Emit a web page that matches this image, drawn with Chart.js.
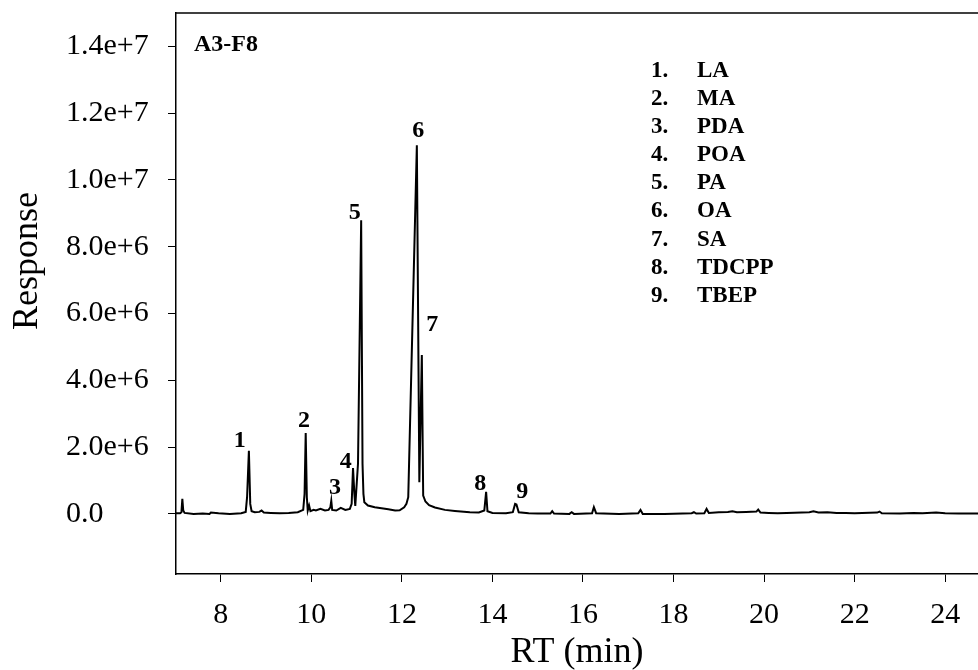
<!DOCTYPE html>
<html>
<head>
<meta charset="utf-8">
<script src="https://cdn.jsdelivr.net/npm/chart.js@4.4.1/dist/chart.umd.min.js"></script>
<style>
  html, body { margin: 0; padding: 0; background: #fff; overflow: hidden; }
  #wrap { width: 978px; height: 670px; }
</style>
</head>
<body>
<div id="wrap"><canvas id="chart" width="978" height="670"></canvas></div>
<script>
// retention time (min) and detector response
var rtMin = [
  7.01, 7.10, 7.13, 7.15, 7.17, 7.20, 7.40, 7.60, 7.75, 7.78, 7.95, 8.20, 8.45, 8.55, 8.58, 8.62,
  8.65, 8.68, 8.75, 8.85, 8.90, 8.95, 9.10, 9.30, 9.50, 9.70, 9.82, 9.85, 9.875, 9.90, 9.92, 9.95,
  9.98, 10.05, 10.10, 10.20, 10.30, 10.38, 10.42, 10.44, 10.46, 10.55, 10.65, 10.75, 10.85, 10.89,
  10.92, 10.95, 10.97, 11.03, 11.10, 11.13, 11.15, 11.17, 11.25, 11.40, 11.55, 11.70, 11.85, 11.95,
  12.05, 12.10, 12.14, 12.33, 12.385, 12.44, 12.47, 12.52, 12.60, 12.73, 12.95, 13.17, 13.50, 13.70,
  13.82, 13.86, 13.89, 14.00, 14.30, 14.45, 14.50, 14.53, 14.58, 14.80, 15.00, 15.28, 15.32, 15.36,
  15.70, 15.75, 15.80, 16.20, 16.24, 16.29, 16.80, 17.22, 17.27, 17.32, 17.80, 18.40, 18.45, 18.50,
  18.68, 18.73, 18.78, 19.00, 19.20, 19.30, 19.40, 19.60, 19.83, 19.87, 19.92, 20.10, 20.30, 20.50,
  21.00, 21.09, 21.20, 21.40, 21.60, 21.80, 22.00, 22.50, 22.55, 22.60, 23.00, 23.30, 23.50, 23.80,
  24.00, 24.30, 24.75
];
var response = [
  0.02e6, 0.02e6, 0.05e6, 0.45e6, 0.10e6, 0.03e6, 0.00e6, 0.01e6, 0.00e6, 0.04e6, 0.02e6, 0.00e6, 0.02e6, 0.06e6, 0.50e6, 1.89e6,
  0.30e6, 0.08e6, 0.05e6, 0.06e6, 0.10e6, 0.04e6, 0.03e6, 0.02e6, 0.03e6, 0.05e6, 0.12e6, 0.60e6, 2.42e6, 0.50e6, 0.10e6, 0.25e6,
  0.08e6, 0.12e6, 0.10e6, 0.15e6, 0.10e6, 0.12e6, 0.20e6, 0.39e6, 0.12e6, 0.10e6, 0.18e6, 0.12e6, 0.15e6, 0.30e6,
  1.37e6, 0.60e6, 0.24e6, 1.50e6, 8.79e6, 1.50e6, 0.60e6, 0.35e6, 0.25e6, 0.20e6, 0.17e6, 0.14e6, 0.10e6, 0.11e6,
  0.20e6, 0.30e6, 0.50e6, 11.04e6, 0.95e6, 4.76e6, 0.55e6, 0.37e6, 0.26e6, 0.19e6, 0.12e6, 0.09e6, 0.05e6, 0.04e6,
  0.10e6, 0.66e6, 0.08e6, 0.03e6, 0.02e6, 0.05e6, 0.30e6, 0.28e6, 0.05e6, 0.02e6, 0.01e6, 0.01e6, 0.08e6, 0.01e6,
  0.00e6, 0.05e6, 0.00e6, 0.02e6, 0.20e6, 0.02e6, 0.00e6, 0.02e6, 0.12e6, 0.00e6, 0.00e6, 0.02e6, 0.05e6, 0.01e6,
  0.02e6, 0.15e6, 0.03e6, 0.05e6, 0.06e6, 0.08e6, 0.05e6, 0.06e6, 0.07e6, 0.13e6, 0.04e6, 0.03e6, 0.02e6, 0.03e6,
  0.05e6, 0.08e6, 0.04e6, 0.05e6, 0.03e6, 0.03e6, 0.02e6, 0.04e6, 0.07e6, 0.02e6, 0.01e6, 0.03e6, 0.02e6, 0.04e6,
  0.02e6, 0.01e6, 0.01e6
];

var yTicks = [0, 2e6, 4e6, 6e6, 8e6, 10e6, 12e6, 14e6];
var xTicks = [8, 10, 12, 14, 16, 18, 20, 22, 24];

// peak numbers and where they are written (in RT / response units)
var peakNumbers = ["1", "2", "3", "4", "5", "6", "7", "8", "9"];
var peakLabelRt = [8.42, 9.84, 10.52, 10.76, 10.96, 12.36, 12.67, 13.73, 14.66];
var peakLabelResponse = [2.18e6, 2.80e6, 0.78e6, 1.57e6, 9.02e6, 11.48e6, 5.66e6, 0.91e6, 0.67e6];

var compoundNames = ["LA", "MA", "PDA", "POA", "PA", "OA", "SA", "TDCPP", "TBEP"];
var sampleName = "A3-F8";

var points = rtMin.map(function (t, i) {
  return {x: t, y: response[i]};
});

var serif = '"Liberation Serif", "Times New Roman", serif';

var annotate = {
  id: 'annotate',
  afterDraw: function (chart) {
    var ctx = chart.ctx;
    var area = chart.chartArea;
    var xs = chart.scales.x;
    var ys = chart.scales.y;
    ctx.save();

    // top frame line
    ctx.strokeStyle = '#000';
    ctx.lineWidth = 1.5;
    ctx.beginPath();
    ctx.moveTo(area.left, area.top);
    ctx.lineTo(area.right, area.top);
    ctx.stroke();

    ctx.fillStyle = '#000';
    ctx.textBaseline = 'middle';

    // peak numbers
    ctx.font = 'bold 24px ' + serif;
    ctx.textAlign = 'center';
    peakNumbers.forEach(function (n, i) {
      ctx.fillText(n, xs.getPixelForValue(peakLabelRt[i]), ys.getPixelForValue(peakLabelResponse[i]));
    });

    // sample name
    ctx.textAlign = 'left';
    ctx.font = 'bold 24px ' + serif;
    ctx.fillText(sampleName, 194, 45);

    // compound list
    ctx.font = 'bold 23px ' + serif;
    compoundNames.forEach(function (name, i) {
      var y = 71 + i * 28.1;
      ctx.fillText((i + 1) + '.', 651, y);
      ctx.fillText(name, 697, y);
    });

    // y axis title
    ctx.font = '36px ' + serif;
    ctx.textAlign = 'center';
    ctx.translate(28, 261);
    ctx.rotate(-Math.PI / 2);
    ctx.fillText('Response', 0, 0);
    ctx.restore();
  }
};

var tickFont = {family: serif, size: 30};

function noEdgePadding(scale) {
  scale.paddingTop = 0;
  scale.paddingBottom = 0;
  scale.paddingLeft = 0;
  scale.paddingRight = 0;
}

new Chart(document.getElementById('chart'), {
  type: 'line',
  data: {
    datasets: [{
      data: points,
      borderColor: '#000',
      borderWidth: 2,
      pointRadius: 0,
      tension: 0,
      fill: false
    }]
  },
  options: {
    responsive: false,
    animation: false,
    layout: {padding: {left: 66, top: 13, right: 0, bottom: 0}},
    plugins: {
      legend: {display: false},
      tooltip: {enabled: false}
    },
    scales: {
      x: {
        type: 'linear',
        min: 7.01,
        max: 24.725,
        afterFit: function (scale) { scale.height = 96; noEdgePadding(scale); },
        afterBuildTicks: function (scale) {
          scale.ticks = xTicks.map(function (v) { return {value: v}; });
        },
        border: {display: true, color: '#000', width: 1.5},
        grid: {drawOnChartArea: false, drawTicks: true, tickLength: 8, color: '#000', tickColor: '#000'},
        ticks: {
          color: '#000',
          font: tickFont,
          padding: 15,
          maxRotation: 0,
          autoSkip: false
        },
        title: {
          display: true,
          text: 'RT (min)',
          color: '#000',
          font: {family: serif, size: 36},
          padding: {top: 0, bottom: -4}
        }
      },
      y: {
        type: 'linear',
        min: -1.8e6,
        max: 1.5e7,
        afterFit: function (scale) { scale.width = 110; noEdgePadding(scale); },
        afterBuildTicks: function (scale) {
          scale.ticks = yTicks.map(function (v) { return {value: v}; });
        },
        border: {display: true, color: '#000', width: 1.5},
        grid: {drawOnChartArea: false, drawTicks: true, tickLength: 8, color: '#000', tickColor: '#000'},
        ticks: {
          color: '#000',
          font: tickFont,
          crossAlign: 'far',
          autoSkip: false,
          callback: function (v) {
            return v === 0 ? '0.0' : Number(v).toExponential(1);
          }
        }
      }
    }
  },
  plugins: [annotate]
});
</script>
</body>
</html>
